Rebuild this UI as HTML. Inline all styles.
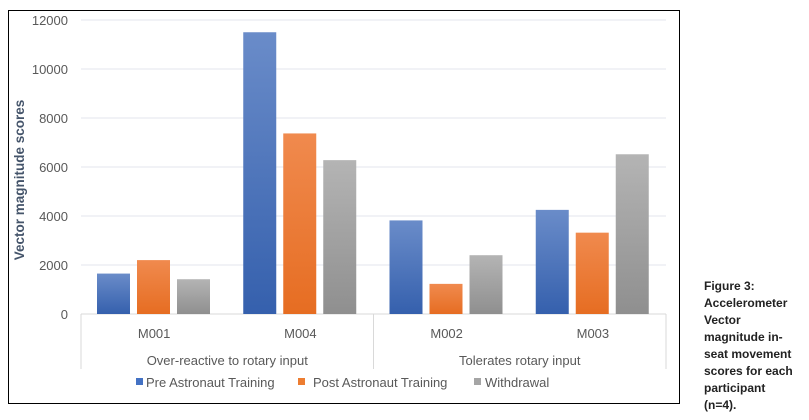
<!DOCTYPE html>
<html><head><meta charset="utf-8"><style>
body{margin:0;background:#fff;width:809px;height:415px;overflow:hidden;font-family:"Liberation Sans",sans-serif}
</style></head><body>
<svg width="809" height="415" viewBox="0 0 809 415">
<defs>
<linearGradient id="gb" x1="0" y1="0" x2="0" y2="1"><stop offset="0" stop-color="#6a8cc9"/><stop offset="1" stop-color="#3560ad"/></linearGradient>
<linearGradient id="go" x1="0" y1="0" x2="0" y2="1"><stop offset="0" stop-color="#f08a4e"/><stop offset="1" stop-color="#e66d22"/></linearGradient>
<linearGradient id="gg" x1="0" y1="0" x2="0" y2="1"><stop offset="0" stop-color="#b4b4b4"/><stop offset="1" stop-color="#8f8f8f"/></linearGradient>
</defs>
<rect x="8.5" y="10.5" width="671" height="393" fill="#fff" stroke="#000" stroke-width="1"/>
<g id="grid"></g>
<g id="bars"></g>
<g id="axis"></g>
<text transform="translate(24,180) rotate(-90)" text-anchor="middle" font-size="13.5" font-weight="bold" fill="#44546a">Vector magnitude scores</text>
<g font-size="13" fill="#595959">
<g><rect x="136" y="378" width="7" height="7" fill="#4472c4"/><text x="146" y="387">Pre Astronaut Training</text></g>
<g><rect x="298" y="378" width="7" height="7" fill="#ed7d31"/><text x="313" y="387">Post Astronaut Training</text></g>
<g><rect x="474" y="378" width="7" height="7" fill="#a5a5a5"/><text x="485" y="387">Withdrawal</text></g>
</g>
<g font-size="12" font-weight="bold" fill="#222">
<text x="704" y="290">Figure 3:</text><text x="704" y="307">Accelerometer</text><text x="704" y="324">Vector</text><text x="704" y="341">magnitude in-</text><text x="704" y="358">seat movement</text><text x="704" y="375">scores for each</text><text x="704" y="392">participant</text><text x="704" y="409">(n=4).</text>
</g>
</svg>
<script>
const categories=["M001","M004","M002","M003"];
const groups=["Over-reactive to rotary input","Tolerates rotary input"];
const preValues=[1650,11500,3820,4250];
const postValues=[2200,7370,1230,3320];
const withdrawalValues=[1420,6280,2400,6520];
const yTicks=[0,2000,4000,6000,8000,10000,12000];
const NS="http://www.w3.org/2000/svg";
const x0=81,x1=666,y0=314,yTop=20,yMax=12000;
const y=v=>y0-(v/yMax)*(y0-yTop);
const bandW=(x1-x0)/categories.length;
const bx=(i,s)=>x0+i*bandW+16+s*40;
function mk(tag,attrs,parent,txt){const e=document.createElementNS(NS,tag);for(const k in attrs)e.setAttribute(k,attrs[k]);if(txt!==undefined)e.textContent=txt;parent.appendChild(e);return e;}
const grid=document.getElementById('grid'),bars=document.getElementById('bars'),axis=document.getElementById('axis');
yTicks.forEach(t=>{
  const l=mk('line',{x1:x0,x2:x1,y1:y(t),y2:y(t),stroke:t===0?'#d9d9d9':'#e3e6ec','stroke-width':1},grid);
  
  
  const tx=mk('text',{x:68,y:y(t)+5,'text-anchor':'end','font-size':13,fill:'#595959'},axis,String(t));
  
  
});
const series=[[preValues,'url(#gb)','pre'],[postValues,'url(#go)','post'],[withdrawalValues,'url(#gg)','withdrawal']];
categories.forEach((c,i)=>{
  series.forEach(([vals,fill,nm],s)=>{
    const r=mk('rect',{x:bx(i,s),y:y(vals[i]),width:33,height:y0-y(vals[i]),fill:fill},bars);
    
    
  });
  const t=mk('text',{x:x0+(i+0.5)*bandW,y:338,'text-anchor':'middle','font-size':13,fill:'#595959'},axis,c);
  
  
});
[0,2,4].forEach(i=>{
  const l=mk('line',{x1:x0+i*bandW,x2:x0+i*bandW,y1:y0,y2:369,stroke:'#d9d9d9','stroke-width':1},axis);
  
  
});
groups.forEach((g,j)=>{
  const t=mk('text',{x:x0+(j*2+1)*bandW,y:365,'text-anchor':'middle','font-size':13,fill:'#595959'},axis,g);
  
  
});
</script>
</body></html>
